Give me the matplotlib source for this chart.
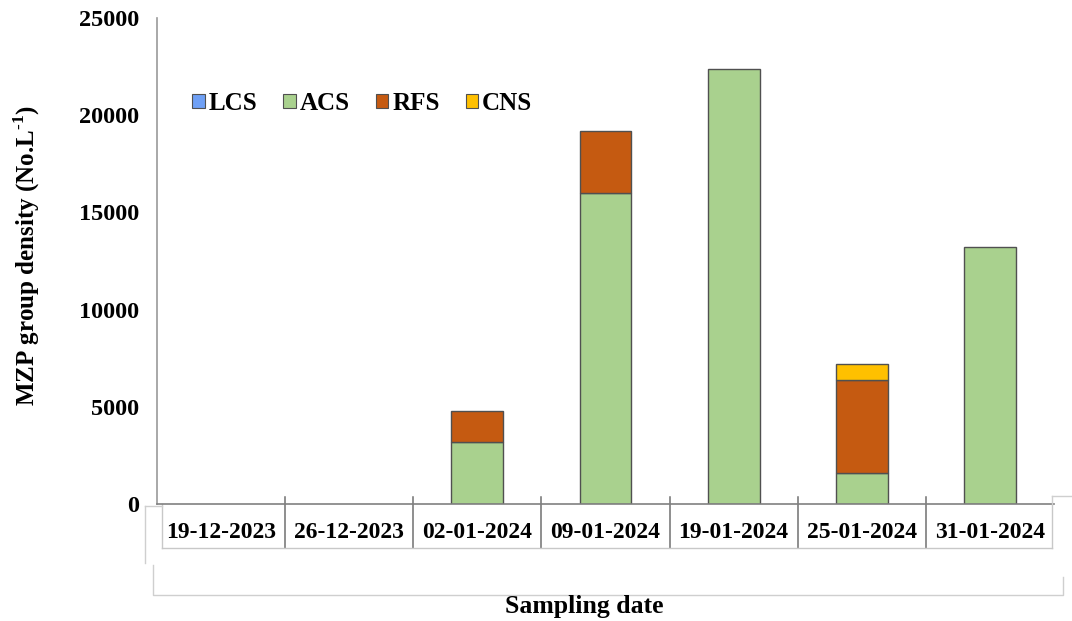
import matplotlib
matplotlib.use('Agg')
import matplotlib.pyplot as plt
from matplotlib.patches import Patch
from matplotlib.lines import Line2D

plt.rcParams['font.family'] = ['Liberation Serif', 'DejaVu Serif']
plt.rcParams['font.weight'] = 'bold'
plt.rcParams['mathtext.fontset'] = 'custom'
plt.rcParams['mathtext.rm'] = 'Liberation Serif:bold'

dates = ['19-12-2023', '26-12-2023', '02-01-2024', '09-01-2024',
         '19-01-2024', '25-01-2024', '31-01-2024']
lcs = [0, 0, 0, 0, 0, 0, 0]
acs = [0, 0, 3200, 16000, 22400, 1600, 13200]
rfs = [0, 0, 1600, 3200, 0, 4800, 0]
cns = [0, 0, 0, 0, 0, 800, 0]

colors = {'LCS': '#6fa0f5', 'ACS': '#a9d18e', 'RFS': '#c55a11', 'CNS': '#ffc000'}
W, H = 1072, 621


def px(x, y):
    return x / W, 1 - y / H


fig = plt.figure(figsize=(W / 100, H / 100), dpi=100)
ax = fig.add_axes([157 / W, 1 - 504 / H, (1054 - 157) / W, (504 - 18) / H])

bottom = [0] * len(dates)
for name, vals in [('LCS', lcs), ('ACS', acs), ('RFS', rfs), ('CNS', cns)]:
    # empty segments are left out so they don't leave an outline on the axis
    idx = [i for i, v in enumerate(vals) if v > 0]
    if idx:
        ax.bar(idx, [vals[i] for i in idx], width=0.405,
               bottom=[bottom[i] for i in idx], color=colors[name],
               edgecolor='#505050', linewidth=1.0, label=name)
    bottom = [b + v for b, v in zip(bottom, vals)]

ax.set_xlim(-0.5, 6.5)
ax.set_ylim(0, 25000)
ax.set_yticks(range(0, 25001, 5000))
ax.tick_params(axis='y', length=0, pad=13, labelsize=17.5)
ax.set_xticks(range(len(dates)))
ax.set_xticklabels(dates)
ax.tick_params(axis='x', length=0, pad=13, labelsize=17)

for s in ['top', 'right']:
    ax.spines[s].set_visible(False)
ax.spines['left'].set_color('#9a9a9a')
ax.spines['bottom'].set_color('#808080')
ax.spines['left'].set_linewidth(1.2)
ax.spines['bottom'].set_linewidth(1.2)

# category table under the axis
tr = ax.get_xaxis_transform()
row_bot = -44 / 486
for b in [0.5, 1.5, 2.5, 3.5, 4.5, 5.5]:
    ax.add_line(Line2D([b, b], [7 / 486, row_bot], transform=tr,
                       color='#707070', lw=1.1, clip_on=False))
for b in [-0.46, 6.485]:
    ax.add_line(Line2D([b, b], [0, row_bot], transform=tr,
                       color='#c8c8c8', lw=1.0, clip_on=False))
ax.add_line(Line2D([-0.46, 6.485], [row_bot, row_bot], transform=tr,
                   color='#c8c8c8', lw=1.0, clip_on=False))

# outer frame of the category area
frame = [
    [(145, 506), (162, 506)],
    [(145, 506), (145, 563)],
    [(153, 565), (153, 595), (1063, 595), (1063, 577)],
    [(1052, 496), (1072, 496)],
    [(1052, 496), (1052, 504)],
]
for seg in frame:
    xs = [px(a, b)[0] for a, b in seg]
    ys = [px(a, b)[1] for a, b in seg]
    fig.add_artist(Line2D(xs, ys, transform=fig.transFigure,
                          color='#cfcfcf', lw=1.0))

fig.text(*px(584, 606), 'Sampling date', ha='center', va='center',
         fontsize=18.5, fontweight='bold')
fig.text(*px(27, 255), r'MZP group density (No.L$^{\text{-1}}$)', ha='center',
         va='center', rotation=90, fontsize=18, fontweight='bold')

handles = [Patch(facecolor=colors[n], edgecolor='#505050', linewidth=0.8)
           for n in ['LCS', 'ACS', 'RFS', 'CNS']]
ax.legend(handles, ['LCS', 'ACS', 'RFS', 'CNS'], loc='center left',
          bbox_to_anchor=px(192, 103), bbox_transform=fig.transFigure,
          ncol=4, frameon=False, fontsize=18, handlelength=0.5,
          handleheight=0.5, handletextpad=0.15, columnspacing=1.05,
          borderpad=0, borderaxespad=0)

fig.savefig('out.png', dpi=100)
